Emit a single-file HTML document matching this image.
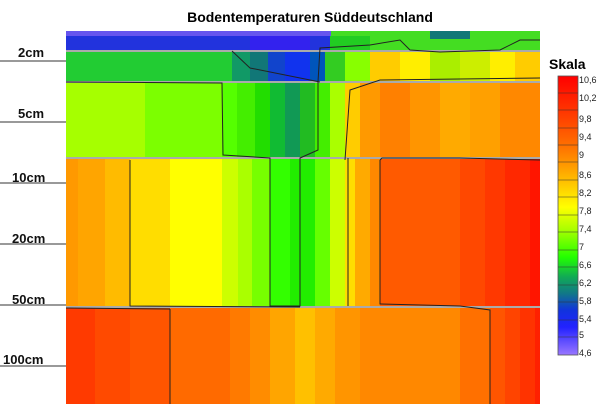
<!DOCTYPE html>
<html><head><meta charset="utf-8"><style>
html,body{margin:0;padding:0;background:#fff;width:600px;height:404px;overflow:hidden}
svg text{font-family:"Liberation Sans",sans-serif}
</style></head><body>
<svg width="600" height="404" xmlns="http://www.w3.org/2000/svg">
<defs>
<linearGradient id="cb" x1="0" y1="0" x2="0" y2="1">
<stop offset="0" stop-color="#ff0000"/><stop offset="0.12" stop-color="#ff3300"/>
<stop offset="0.25" stop-color="#ff7000"/><stop offset="0.33" stop-color="#ffa000"/>
<stop offset="0.42" stop-color="#ffdd00"/><stop offset="0.47" stop-color="#ffff00"/>
<stop offset="0.55" stop-color="#aaff00"/><stop offset="0.65" stop-color="#22ff00"/>
<stop offset="0.72" stop-color="#11aa55"/><stop offset="0.78" stop-color="#117788"/>
<stop offset="0.84" stop-color="#1133dd"/><stop offset="0.9" stop-color="#2222ff"/>
<stop offset="1" stop-color="#9977ff"/></linearGradient>
</defs>
<text x="310" y="22" font-size="14" font-weight="bold" text-anchor="middle">Bodentemperaturen Süddeutschland</text>
<g stroke="none">
<!-- top strip -->
<rect x="66" y="31" width="474" height="20" fill="#44dd22"/>
<rect x="66" y="31" width="265" height="20" fill="#2233dd"/>
<rect x="66" y="31" width="265" height="5" fill="#6655ee"/>
<rect x="250" y="36" width="60" height="15" fill="#3322ee"/>
<rect x="330" y="36" width="40" height="15" fill="#22cc22"/>
<rect x="430" y="31" width="40" height="8" fill="#117777"/>
<!-- 2cm layer -->
<rect x="66" y="51" width="166" height="31" fill="#22cc33"/>
<rect x="232" y="51" width="18" height="31" fill="#119966"/>
<rect x="250" y="51" width="18" height="31" fill="#117777"/>
<rect x="268" y="51" width="17" height="31" fill="#1144cc"/>
<rect x="285" y="51" width="25" height="31" fill="#1133ee"/>
<rect x="310" y="51" width="15" height="31" fill="#0055bb"/>
<rect x="325" y="51" width="20" height="31" fill="#33cc22"/>
<rect x="345" y="51" width="25" height="31" fill="#88ff00"/>
<rect x="370" y="51" width="30" height="31" fill="#ffcc00"/>
<rect x="400" y="51" width="30" height="31" fill="#ffee00"/>
<rect x="430" y="51" width="30" height="31" fill="#aaee00"/>
<rect x="460" y="51" width="30" height="31" fill="#ccee00"/>
<rect x="490" y="51" width="25" height="31" fill="#ffee00"/>
<rect x="515" y="51" width="25" height="31" fill="#ffcc00"/>
<!-- 5cm layer -->
<rect x="66" y="82" width="79" height="76" fill="#a6ff00"/>
<rect x="145" y="82" width="77" height="76" fill="#7cff00"/>
<rect x="222" y="82" width="15" height="76" fill="#55ff00"/>
<rect x="237" y="82" width="18" height="76" fill="#44ee00"/>
<rect x="255" y="82" width="15" height="76" fill="#22dd00"/>
<rect x="270" y="82" width="15" height="76" fill="#11bb33"/>
<rect x="285" y="82" width="15" height="76" fill="#119955"/>
<rect x="300" y="82" width="15" height="76" fill="#22bb22"/>
<rect x="315" y="82" width="15" height="76" fill="#44ee00"/>
<rect x="330" y="82" width="15" height="76" fill="#aaff00"/>
<rect x="345" y="82" width="15" height="76" fill="#ffcc00"/>
<rect x="360" y="82" width="20" height="76" fill="#ff9900"/>
<rect x="380" y="82" width="30" height="76" fill="#ff8000"/>
<rect x="410" y="82" width="30" height="76" fill="#ff9500"/>
<rect x="440" y="82" width="30" height="76" fill="#ffaa00"/>
<rect x="470" y="82" width="30" height="76" fill="#ffa000"/>
<rect x="500" y="82" width="40" height="76" fill="#ff8800"/>
<!-- 10-50cm layer -->
<rect x="66" y="158" width="12" height="149" fill="#ff9900"/>
<rect x="78" y="158" width="27" height="149" fill="#ffa500"/>
<rect x="105" y="158" width="25" height="149" fill="#ffbb00"/>
<rect x="130" y="158" width="40" height="149" fill="#ffdd00"/>
<rect x="170" y="158" width="52" height="149" fill="#ffff00"/>
<rect x="222" y="158" width="16" height="149" fill="#ccff00"/>
<rect x="238" y="158" width="14" height="149" fill="#aaff00"/>
<rect x="252" y="158" width="18" height="149" fill="#77ff00"/>
<rect x="270" y="158" width="20" height="149" fill="#33ff00"/>
<rect x="290" y="158" width="25" height="149" fill="#22ee00"/>
<rect x="315" y="158" width="15" height="149" fill="#66ff00"/>
<rect x="330" y="158" width="15" height="149" fill="#ccff00"/>
<rect x="345" y="158" width="10" height="149" fill="#ffdd00"/>
<rect x="355" y="158" width="15" height="149" fill="#ffaa00"/>
<rect x="370" y="158" width="10" height="149" fill="#ff8800"/>
<rect x="380" y="158" width="80" height="149" fill="#ff5a00"/>
<rect x="460" y="158" width="25" height="149" fill="#ff4800"/>
<rect x="485" y="158" width="20" height="149" fill="#ff3800"/>
<rect x="505" y="158" width="25" height="149" fill="#ff2800"/>
<rect x="530" y="158" width="10" height="149" fill="#ff1500"/>
<!-- bottom layer -->
<rect x="66" y="307" width="29" height="97" fill="#ff3a00"/>
<rect x="95" y="307" width="35" height="97" fill="#ff4a00"/>
<rect x="130" y="307" width="40" height="97" fill="#ff5500"/>
<rect x="170" y="307" width="60" height="97" fill="#ff6a00"/>
<rect x="230" y="307" width="20" height="97" fill="#ff7a00"/>
<rect x="250" y="307" width="20" height="97" fill="#ff8c00"/>
<rect x="270" y="307" width="25" height="97" fill="#ffa500"/>
<rect x="295" y="307" width="20" height="97" fill="#ffc000"/>
<rect x="315" y="307" width="20" height="97" fill="#ffaa00"/>
<rect x="335" y="307" width="25" height="97" fill="#ff9500"/>
<rect x="360" y="307" width="100" height="97" fill="#ff8800"/>
<rect x="460" y="307" width="30" height="97" fill="#ff7000"/>
<rect x="490" y="307" width="15" height="97" fill="#ff5500"/>
<rect x="505" y="307" width="15" height="97" fill="#ff4400"/>
<rect x="520" y="307" width="15" height="97" fill="#ff3300"/>
<rect x="535" y="307" width="5" height="97" fill="#ff2000"/>
</g>
<!-- layer separators -->
<g stroke="#aaaaaa" stroke-width="2">
<line x1="66" y1="51" x2="540" y2="51"/><line x1="66" y1="82" x2="540" y2="82"/>
<line x1="66" y1="158" x2="540" y2="158"/><line x1="66" y1="307" x2="540" y2="307"/>
</g>
<!-- contour lines -->
<g fill="none" stroke="#222" stroke-width="1">
<polyline points="66,82 222,83 223,155 270,158 270,306 300,306 300,158 318,150 318,82"/>
<polyline points="130,160 130,306 300,307"/>
<polyline points="348,158 348,306"/>
<polyline points="380,160 382,158 460,158 540,160"/>
<polyline points="380,160 380,304 460,306 490,310 490,404"/>
<polyline points="170,309 170,404"/>
<polyline points="66,308 170,309"/>
<polyline points="318,82 320,48 370,45 400,40 410,50 440,52 500,50 520,40 540,40"/>
<polyline points="345,160 350,90 380,80 540,78"/>
<polyline points="232,51 250,68 320,82"/>
</g>
<!-- left labels -->
<g font-size="13" font-weight="bold" fill="#111">
<text x="18" y="57">2cm</text><text x="18" y="118">5cm</text>
<text x="12" y="182">10cm</text><text x="12" y="243">20cm</text>
<text x="12" y="304">50cm</text><text x="3" y="364">100cm</text>
</g>
<g stroke="#333" stroke-width="1">
<line x1="0" y1="61" x2="66" y2="61"/><line x1="0" y1="122" x2="66" y2="122"/>
<line x1="0" y1="183" x2="66" y2="183"/><line x1="0" y1="244" x2="66" y2="244"/>
<line x1="0" y1="305" x2="66" y2="305"/><line x1="0" y1="366" x2="66" y2="366"/>
</g>
<!-- colorbar -->
<text x="549" y="69" font-size="14" font-weight="bold">Skala</text>
<rect x="558" y="76" width="20" height="279" fill="url(#cb)" stroke="#555" stroke-width="0.8"/>
<g stroke="#333" stroke-width="0.6">
<line x1="558" y1="93" x2="578" y2="93"/><line x1="558" y1="110" x2="578" y2="110"/>
<line x1="558" y1="128" x2="578" y2="128"/><line x1="558" y1="145" x2="578" y2="145"/>
<line x1="558" y1="162" x2="578" y2="162"/><line x1="558" y1="180" x2="578" y2="180"/>
<line x1="558" y1="197" x2="578" y2="197"/><line x1="558" y1="215" x2="578" y2="215"/>
<line x1="558" y1="232" x2="578" y2="232"/><line x1="558" y1="250" x2="578" y2="250"/>
<line x1="558" y1="267" x2="578" y2="267"/><line x1="558" y1="285" x2="578" y2="285"/>
<line x1="558" y1="302" x2="578" y2="302"/><line x1="558" y1="320" x2="578" y2="320"/>
<line x1="558" y1="337" x2="578" y2="337"/>
</g>
<g font-size="9" fill="#222">
<text x="579" y="83">10,6</text><text x="579" y="101">10,2</text><text x="579" y="122">9,8</text>
<text x="579" y="140">9,4</text><text x="579" y="158">9</text><text x="579" y="178">8,6</text>
<text x="579" y="196">8,2</text><text x="579" y="214">7,8</text><text x="579" y="232">7,4</text>
<text x="579" y="250">7</text><text x="579" y="268">6,6</text><text x="579" y="286">6,2</text>
<text x="579" y="304">5,8</text><text x="579" y="322">5,4</text><text x="579" y="338">5</text>
<text x="579" y="356">4,6</text>
</g>
</svg>
</body></html>
